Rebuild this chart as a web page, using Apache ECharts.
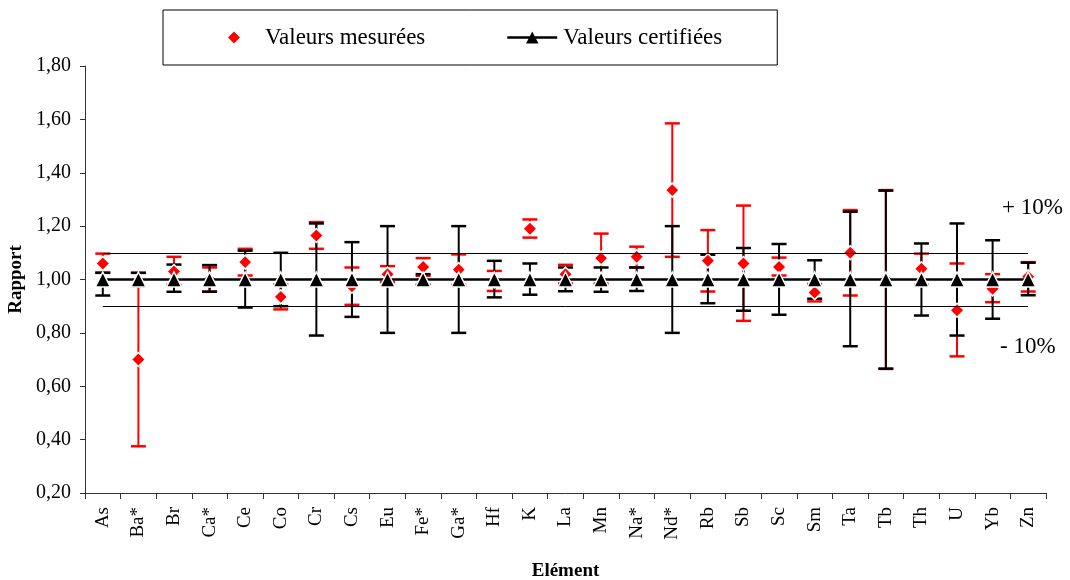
<!DOCTYPE html>
<html>
<head>
<meta charset="utf-8">
<script src="https://cdn.jsdelivr.net/npm/echarts@6/dist/echarts.min.js"></script>
<style>
  html, body { margin: 0; padding: 0; background: #fff; }
  #chart { width: 1070px; height: 580px; }
</style>
</head>
<body>
<div id="chart"></div>
<script>
// Elements analysed
const categories = ['As','Ba*','Br','Ca*','Ce','Co','Cr','Cs','Eu','Fe*','Ga*','Hf','K','La','Mn','Na*','Nd*','Rb','Sb','Sc','Sm','Ta','Tb','Th','U','Yb','Zn'];

// Measured / certified ratio and its uncertainty range
const measured     = [1.060, 0.700, 1.030, 1.000, 1.065, 0.935, 1.165, 0.975, 1.020, 1.047, 1.037, 0.995, 1.190, 1.020, 1.080, 1.085, 1.335, 1.070, 1.060, 1.047, 0.951, 1.100, 1.000, 1.040, 0.885, 0.965, 1.010];
const measuredLow  = [1.026, 0.375, 0.980, 0.955, 1.015, 0.888, 1.115, 0.905, 0.990, 1.014, 0.980, 0.957, 1.157, 0.985, 0.985, 1.045, 1.085, 0.955, 0.845, 1.015, 0.918, 0.940, 0.665, 0.980, 0.712, 0.915, 0.955];
const measuredHigh = [1.097, 1.025, 1.085, 1.045, 1.115, 0.982, 1.215, 1.045, 1.050, 1.080, 1.094, 1.032, 1.225, 1.055, 1.172, 1.123, 1.585, 1.185, 1.277, 1.082, 0.983, 1.260, 1.335, 1.097, 1.060, 1.020, 1.065];

// Certified reference values (normalised) and their uncertainty range
const certified     = [1.00, 1.00, 1.00, 1.00, 1.00, 1.00, 1.00, 1.00, 1.00, 1.00, 1.00, 1.00, 1.00, 1.00, 1.00, 1.00, 1.00, 1.00, 1.00, 1.00, 1.00, 1.00, 1.00, 1.00, 1.00, 1.00, 1.00];
const certifiedLow  = [0.940, 0.975, 0.954, 0.954, 0.895, 0.900, 0.790, 0.860, 0.800, 0.980, 0.800, 0.933, 0.943, 0.956, 0.954, 0.957, 0.800, 0.911, 0.883, 0.868, 0.928, 0.750, 0.666, 0.865, 0.790, 0.853, 0.941];
const certifiedHigh = [1.025, 1.025, 1.056, 1.054, 1.108, 1.100, 1.210, 1.140, 1.200, 1.020, 1.200, 1.070, 1.060, 1.045, 1.045, 1.045, 1.200, 1.093, 1.118, 1.133, 1.072, 1.254, 1.333, 1.135, 1.210, 1.147, 1.063];

// Tolerance band
const upperLimit = 1.10;
const lowerLimit = 0.90;

const FONT = '"Liberation Serif", "Times New Roman", serif';

function errorBarRenderer(color) {
  return function (params, api) {
    const x = api.value(0);
    const lo = api.coord([x, api.value(1)]);
    const hi = api.coord([x, api.value(2)]);
    const half = 7.5;
    const style = { stroke: color, lineWidth: 2, fill: null };
    const cap = { stroke: color, lineWidth: 2.5, fill: null };
    return {
      type: 'group',
      children: [
        { type: 'line', shape: { x1: lo[0], y1: lo[1], x2: hi[0], y2: hi[1] }, style: style },
        { type: 'line', shape: { x1: hi[0] - half, y1: hi[1], x2: hi[0] + half, y2: hi[1] }, style: cap },
        { type: 'line', shape: { x1: lo[0] - half, y1: lo[1], x2: lo[0] + half, y2: lo[1] }, style: cap }
      ]
    };
  };
}

const measuredBars  = categories.map((c, i) => [i, measuredLow[i], measuredHigh[i]]);
const certifiedBars = categories.map((c, i) => [i, certifiedLow[i], certifiedHigh[i]]);

// Legend icons: small diamond, and a thick line crossed by a triangle
const diamondIcon = 'path://M0,-1L1,0L0,1L-1,0Z';
const lineTriangleIcon = 'path://M0,5h52v2.6h-52z M19.5,12.5L26,0L32.5,12.5Z';

const chart = echarts.init(document.getElementById('chart'), null, { renderer: 'canvas' });

chart.setOption({
  animation: false,
  backgroundColor: '#fff',
  textStyle: { fontFamily: FONT, color: '#000' },
  grid: { left: 85, right: 24, top: 66, bottom: 87, containLabel: false, outerBoundsMode: 'none' },
  legend: {
    left: 163,
    top: 10,
    padding: [16, 55, 16, 65],
    itemGap: 82,
    itemWidth: 52,
    itemHeight: 12,
    borderColor: '#000',
    borderWidth: 1,
    textStyle: { fontFamily: FONT, fontSize: 23, color: '#000' },
    data: [
      {
        name: 'Valeurs mesurées',
        icon: diamondIcon,
        itemStyle: { color: '#ff0000', borderWidth: 0 }
      },
      {
        name: 'Valeurs certifiées',
        icon: lineTriangleIcon,
        itemStyle: { color: '#000', borderWidth: 0 }
      }
    ]
  },
  xAxis: {
    type: 'category',
    data: categories,
    boundaryGap: true,
    name: 'Elément',
    nameLocation: 'middle',
    nameGap: 69,
    nameTextStyle: { fontFamily: FONT, fontSize: 19, fontWeight: 'bold', color: '#000' },
    axisLine: { lineStyle: { color: '#333', width: 1 } },
    axisTick: { show: true, interval: 0, length: 6, lineStyle: { color: '#333' } },
    axisLabel: { interval: 0, rotate: 90, margin: 14, fontFamily: FONT, fontSize: 19, color: '#000' },
    splitLine: { show: false }
  },
  yAxis: {
    type: 'value',
    min: 0.2,
    max: 1.8,
    interval: 0.2,
    name: 'Rapport',
    nameLocation: 'middle',
    nameGap: 53,
    nameRotate: 90,
    nameTextStyle: { fontFamily: FONT, fontSize: 19, fontWeight: 'bold', color: '#000' },
    axisLine: { show: true, lineStyle: { color: '#333', width: 1 } },
    axisTick: { show: true, length: 5, lineStyle: { color: '#333' } },
    axisLabel: {
      margin: 14,
      fontFamily: FONT,
      fontSize: 20,
      color: '#000',
      formatter: v => v.toFixed(2).replace('.', ',')
    },
    splitLine: { show: false }
  },
  graphic: [
    { type: 'text', left: 1002, top: 196, style: { text: '+ 10%', fontFamily: FONT, fontSize: 23, fill: '#000' } },
    { type: 'text', left: 1000, top: 335, style: { text: '- 10%', fontFamily: FONT, fontSize: 23, fill: '#000' } }
  ],
  series: [
    {
      name: 'Tolérance',
      type: 'line',
      data: [],
      z: 1,
      silent: true,
      markLine: {
        silent: true,
        symbol: 'none',
        label: { show: false },
        lineStyle: { color: '#000', width: 1, type: 'solid' },
        data: [
          [{ xAxis: categories[0], yAxis: upperLimit }, { xAxis: categories[categories.length - 1], yAxis: upperLimit }],
          [{ xAxis: categories[0], yAxis: lowerLimit }, { xAxis: categories[categories.length - 1], yAxis: lowerLimit }]
        ]
      }
    },
    {
      name: 'Incertitude mesurée',
      type: 'custom',
      renderItem: errorBarRenderer('#ff0000'),
      data: measuredBars,
      encode: { x: 0, y: [1, 2] },
      z: 2,
      silent: true
    },
    {
      name: 'Incertitude certifiée',
      type: 'custom',
      renderItem: errorBarRenderer('#000000'),
      data: certifiedBars,
      encode: { x: 0, y: [1, 2] },
      z: 3,
      silent: true
    },
    {
      name: 'Valeurs mesurées',
      type: 'scatter',
      data: measured,
      symbol: 'diamond',
      symbolSize: 14,
      itemStyle: { color: '#ff0000', borderColor: '#fff', borderWidth: 1.5, opacity: 1 },
      z: 4
    },
    {
      name: 'Valeurs certifiées',
      type: 'line',
      data: certified,
      symbol: 'triangle',
      symbolSize: 15,
      showAllSymbol: true,
      lineStyle: { color: '#000', width: 2.5 },
      itemStyle: { color: '#000', borderColor: '#fff', borderWidth: 1.5 },
      z: 5
    }
  ]
});
</script>
</body>
</html>
